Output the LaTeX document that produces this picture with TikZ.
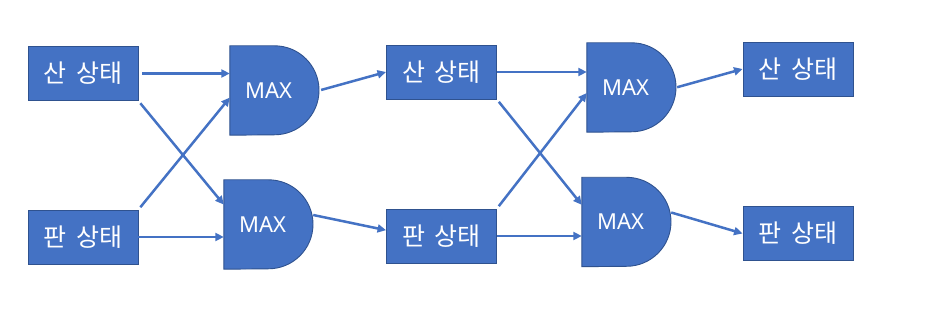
\documentclass[tikz,border=0pt]{standalone}
\usepackage{fontspec}
\newfontfamily\krfont[WordSpace=1.7]{Noto Sans CJK KR}
\newfontfamily\latfont{Noto Sans}
\usetikzlibrary{arrows.meta,calc}
\pgfdeclarelayer{background}
\pgfsetlayers{background,main}
\definecolor{ofblue}{HTML}{4472C4}
\definecolor{ofedge}{HTML}{2F528F}
\begin{document}
\begin{tikzpicture}[x=1pt,y=-1pt,
  statebox/.style={rectangle, fill=ofblue, draw=ofedge, line width=0.9pt,
    minimum width=110pt, minimum height=54pt, inner sep=0pt, text=white,
    font=\krfont\fontsize{25}{30}\selectfont},
  maxnode/.style={rectangle, minimum width=89pt, minimum height=89pt,
    inner sep=0pt, text=white, font=\latfont\fontsize{22}{26}\selectfont},
  dshape/.style={fill=ofblue, draw=ofedge, line width=0.9pt},
  arr/.style={draw=ofblue, line width=2.5pt, -{Triangle[length=8.5pt,width=8pt]}}]
\useasboundingbox (0,0) rectangle (926,312);
% state boxes
\node[statebox] (b1) at (83,73.5) {산 상태};
\node[statebox] (b2) at (83,237) {판 상태};
\node[statebox] (b3) at (441.5,72) {산 상태};
\node[statebox] (b4) at (441.5,236) {판 상태};
\node[statebox] (b5) at (798,69) {산 상태};
\node[statebox] (b6) at (798,233.5) {판 상태};
% MAX nodes
\node[maxnode] (m1) at (274.5,90.5) {MAX\hspace*{12pt}};
\node[maxnode] (m2) at (268.5,224.5) {MAX\hspace*{12pt}};
\node[maxnode] (m3) at (631.5,87.5) {MAX\hspace*{12pt}};
\node[maxnode] (m4) at (626.5,222) {MAX\hspace*{12pt}};
\begin{pgfonlayer}{background}
  \fill[white] (0,0) rectangle (926,312);
  \foreach \m in {m1,m2,m3,m4}
    \path[dshape] (\m.north west) -- (\m.north)
      arc[start angle=90, end angle=-90, radius=44.5pt] -- (\m.south west) -- cycle;
\end{pgfonlayer}
% connectors
\draw[arr, shorten <=4pt] (b1.east) -- (b1.east -| m1.west);
\draw[arr, shorten <=3pt] (b1.south east) -- (m2.156);
\draw[arr, shorten <=3pt] (b2.north east) -- (m1.189);
\draw[arr] (b2.east) -- (b2.east -| m2.west);
\draw[arr, shorten <=2pt] (m1.east) -- (b3.west);
\draw[arr] (m2.12) -- (b4.174);
\draw[arr] (b3.east) -- (b3.east -| m3.west);
\draw[arr, shorten <=3pt] (b3.south east) -- (m4.159);
\draw[arr, shorten <=3pt] (b4.north east) -- (m3.187);
\draw[arr] (b4.east) -- (b4.east -| m4.west);
\draw[arr, shorten <=1pt] (m3.east) -- (b5.west);
\draw[arr] (m4.12) -- (b6.west);
\end{tikzpicture}
\end{document}
